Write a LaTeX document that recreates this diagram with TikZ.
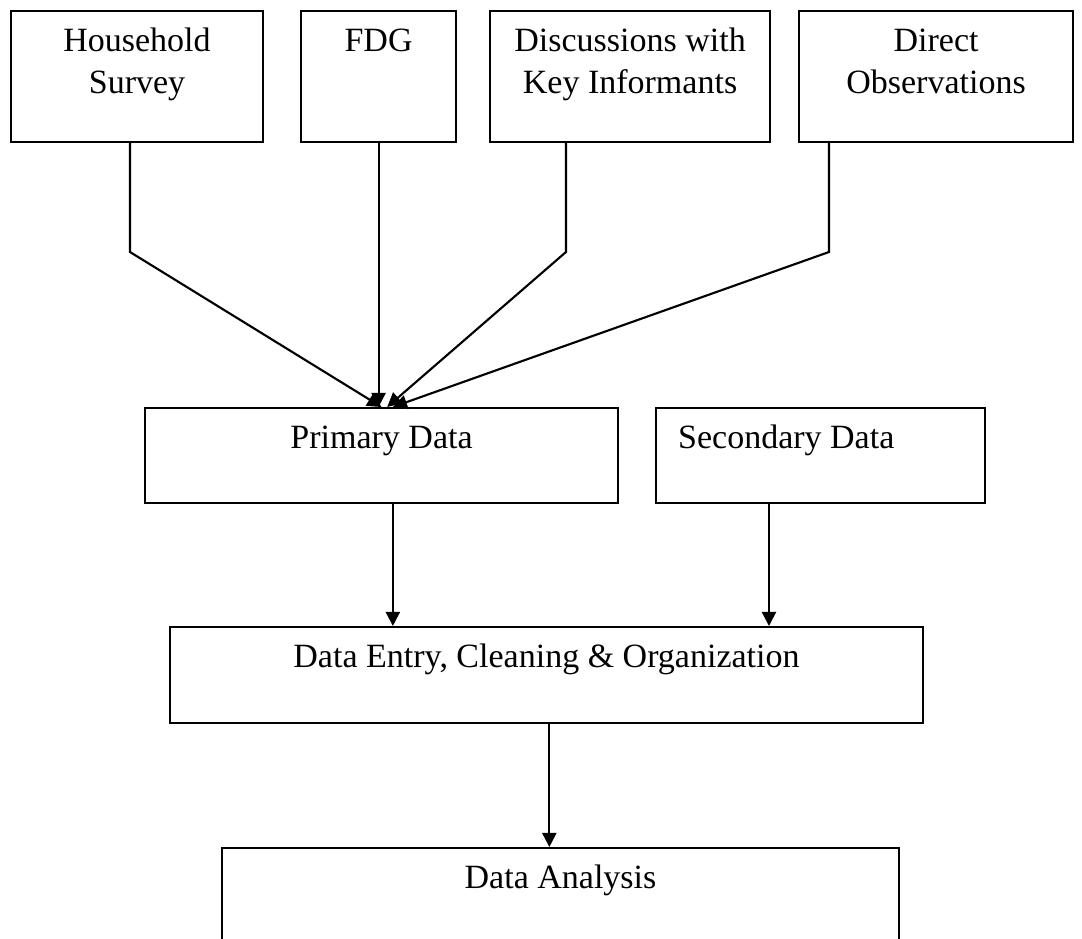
\documentclass[tikz,border=0pt]{standalone}
\usepackage{fontspec}
\setmainfont{Liberation Serif}
\usetikzlibrary{arrows.meta}

\begin{document}
\begin{tikzpicture}[x=0.3529pt, y=-0.3529pt,
    font=\fontsize{12pt}{14.8pt}\selectfont,
    box/.style={draw, line width=0.75pt, inner sep=0pt, anchor=north west,
      align=flush center, text height=14.3pt},
    arr/.style={-{Triangle[length=5pt,width=5pt]}, line width=0.75pt}]
      \clip (0, 0) rectangle (1082, 939);

      % Define the data sources along the top
      \node[box, text width=88.9pt, text depth=31.9pt] (hs) at (10, 10) {Household\\Survey};
      \node[box, text width=54.7pt, text depth=31.9pt] (fdg) at (300, 10) {FDG};
      \node[box, text width=98.8pt, text depth=31.9pt] (dki) at (489, 10) {Discussions with\\Key Informants};
      \node[box, text width=96.7pt, text depth=31.9pt] (dob) at (798, 10) {Direct\\Observations};

      % Define the data nodes
      \node[box, text width=166.9pt, text depth=19.2pt] (pd) at (144, 407) {Primary Data};
      \node[box, align=flush left, inner xsep=7.8pt, text width=100.5pt, text depth=19.2pt] (sd) at (655, 407) {Secondary Data};
      \node[box, text width=265.7pt, text depth=19.6pt] (de) at (169, 626) {Data Entry, Cleaning \& Organization};
      \node[box, text width=238.9pt, text depth=40pt] (da) at (221, 847) {Data Analysis};

      % Bend points of the source lines
      \coordinate (hsb) at (130, 252);
      \coordinate (dkib) at (566, 252);
      \coordinate (dobb) at (829, 252);

      % Draw the arrows from the sources into the primary data
      \draw[arr] (hs.south -| hsb) -- (hsb) -- (pd.north);
      \draw[arr] (fdg.south) -- (fdg.south |- pd.north);
      \draw[arr] (dki.south -| dkib) -- (dkib) -- ([xshift=2pt]pd.north);
      \draw[arr] (dob.south -| dobb) -- (dobb) -- ([xshift=4pt]pd.north);

      % Draw the arrows further down
      \draw[arr] ([xshift=4pt]pd.south) -- ([xshift=4pt]pd.south |- de.north);
      \draw[arr] ([xshift=-18.2pt]sd.south) -- ([xshift=-18.2pt]sd.south |- de.north);
      \draw[arr] ([xshift=1pt]de.south) -- ([xshift=1pt]de.south |- da.north);
\end{tikzpicture}
\end{document}
